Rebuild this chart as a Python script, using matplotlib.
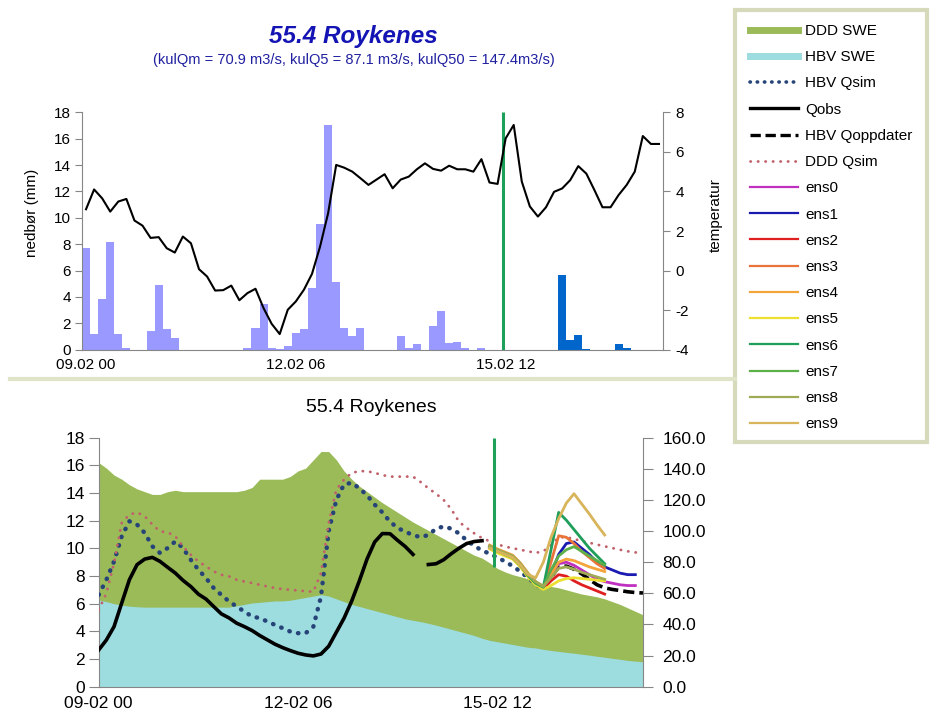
import numpy as np
import matplotlib
matplotlib.use('Agg')
import matplotlib.pyplot as plt
from matplotlib.lines import Line2D
from matplotlib.patches import Rectangle

plt.rcParams['font.family'] = ['Liberation Sans', 'DejaVu Sans']
plt.rcParams['axes.unicode_minus'] = False

nan = np.nan

# 3-hourly steps, 09.02 00 -> 17.02 21
TOP_XLABELS = ['09.02 00', '12.02 06', '15.02 12']
BOT_XLABELS = ['09-02 00', '12-02 06', '15-02 12']

# precipitation (mm), observed then forecast
PRECIP_OBS = [7.7, 1.2, 3.85, 8.2, 1.2, 0.1, 0, 0, 1.4, 4.9,
              1.55, 0.85, 0, 0, 0, 0, 0, 0, 0, 0,
              0.15, 1.65, 3.45, 0.1, 0.05, 0.3, 1.3, 1.55, 4.7, 9.55,
              17.0, 5.1, 1.65, 1.05, 1.65, 0, 0, 0, 0, 1.05,
              0.15, 0.4, 0, 1.8, 2.95, 0.5, 0.55, 0.15, 0, 0.1,
              0, 0]
PRECIP_FC = [0, 0, 0, 0, 0, 0, 0, 5.7, 0.75, 1.1,
             0.05, 0, 0, 0, 0.4, 0.1, 0, 0, 0, 0]

TEMP = [3.1, 4.1, 3.65, 2.98, 3.49, 3.62, 2.53, 2.27, 1.65, 1.69,
        1.13, 0.91, 1.72, 1.38, 0.07, -0.30, -1.01, -0.99, -0.76, -1.50,
        -1.14, -0.92, -1.90, -2.69, -3.21, -1.98, -1.56, -0.97, -0.17, 1.21,
        2.9, 5.34, 5.2, 5.0, 4.67, 4.33, 4.6, 4.87, 4.16, 4.6,
        4.75, 5.12, 5.42, 5.14, 5.05, 5.3, 5.12, 5.12, 5.0, 5.63,
        4.45, 4.38, 6.68, 7.36, 4.5, 3.24, 2.73, 3.2, 3.98, 4.15,
        4.57, 5.28, 4.9, 4.07, 3.2, 3.2, 3.82, 4.33, 5.0, 6.8,
        6.4, 6.4]

# snow water equivalent (left axis)
DDD_SWE = [16.2, 15.8, 15.3, 15.0, 14.6, 14.3, 14.1, 13.9, 13.9, 14.1,
           14.2, 14.1, 14.1, 14.1, 14.1, 14.1, 14.1, 14.1, 14.1, 14.2,
           14.4, 15.0, 15.0, 15.0, 15.0, 15.2, 15.6, 15.8, 16.4, 17.0,
           17.0, 16.4, 15.6, 15.0, 14.5, 14.1, 13.7, 13.3, 12.95, 12.6,
           12.25, 11.9, 11.6, 11.3, 11.0, 10.7, 10.4, 10.1, 9.8, 9.5,
           9.3, 8.95, 8.55, 8.3, 8.1, 7.95, 7.8, 7.6, 7.4, 7.25,
           7.15, 7.0, 6.85, 6.7, 6.6, 6.5, 6.35, 6.15, 5.95, 5.7,
           5.45, 5.2]
HBV_SWE = [6.27, 6.15, 6.0, 5.9, 5.82, 5.78, 5.75, 5.75, 5.75, 5.75,
           5.75, 5.75, 5.75, 5.75, 5.75, 5.75, 5.75, 5.75, 5.85, 5.95,
           6.05, 6.1, 6.15, 6.2, 6.2, 6.25, 6.35, 6.45, 6.55, 6.65,
           6.55, 6.35, 6.15, 5.95, 5.8, 5.65, 5.5, 5.35, 5.2, 5.05,
           4.9, 4.8, 4.7, 4.58, 4.45, 4.3, 4.15, 4.0, 3.85, 3.7,
           3.5, 3.35, 3.25, 3.15, 3.05, 2.95, 2.85, 2.8, 2.7, 2.62,
           2.55, 2.48, 2.42, 2.35, 2.28, 2.2, 2.13, 2.05, 1.98, 1.9,
           1.85, 1.8]

# discharge (m3/s, right axis)
HBV_QSIM = [59, 68.7, 80.5, 96.6, 106.3, 104.2, 98.8, 90.2, 85.9, 89.1,
            93.4, 89.1, 81.6, 75.2, 69.8, 63.4, 59, 54.8, 51.5, 48.3,
            45.1, 44.1, 41.9, 39.7, 37.6, 35.4, 34.4, 34.4, 38.6, 58,
            100, 120, 130, 131, 127.5, 123, 117, 112, 106, 102,
            99.5, 97.5, 96, 97.5, 101.5, 103, 101.5, 98.5, 94, 90.5,
            87.5, 85.5, 83, 80.5, 77.5, 74, 70, 66, 62.5, nan,
            nan, nan, nan, nan, nan, nan, nan, nan, nan, nan,
            nan, nan]
QOBS = [23.6, 30, 38.6, 53.7, 68.7, 78.4, 82, 83.1, 80.5, 76.7,
        73, 68.3, 64.4, 59.5, 56.3, 51.5, 46.8, 44.2, 40.8, 38.6,
        36.1, 32.9, 30.1, 27.3, 25.1, 23.2, 21.5, 20.4, 19.8, 21,
        26, 35, 44, 55, 68, 82, 93, 98.4, 98.3, 94,
        90, 85, nan, 78.5, 79, 81.6, 85.5, 89, 92, 93.3,
        93.8, nan, nan, nan, nan, nan, nan, nan, nan, nan,
        nan, nan, nan, nan, nan, nan, nan, nan, nan, nan,
        nan, nan]
DDD_QSIM = [49.4, 60, 79.5, 105.2, 110.6, 112, 109.5, 104.2, 99.8, 99.2,
            96.6, 90.2, 84.8, 80.5, 77.3, 74.1, 71.9, 70.9, 68.7, 67.6,
            66.6, 65.5, 64.4, 63.4, 62.7, 62.3, 61.8, 61.4, 61, 73,
            105, 126.7, 133, 137.4, 138.5, 138.5, 137.4, 136, 135, 135,
            135, 135, 131.5, 127.5, 124, 120, 114, 106, 102, 98.5,
            95.5, 93.5, 91.5, 90, 89, 88, 87, 86, 87, 91,
            96, 96, 95, 93.5, 92.5, 91.3, 90.2, 89.1, 88, 87,
            86.3, 85.9]

# updated HBV forecast, from step 58
QOPPD_START = 58
HBV_QOPPD = [63, 70, 77, 77.5, 75.5, 72.5, 69, 65.5, 63.5, 62.5,
             61.8, 61, 60.5, 60.2]

# ensemble members, from step 51
ENS_START = 51
ENS0 = [90, 87.5, 85.5, 83, 78, 71.5, 66.5, 64, 72, 79, 80, 78, 75, 72, 69, 67.5, 66.5, 65.5, 65, 65]
ENS1 = [89.5, 87, 85, 83.5, 78.5, 72, 67, 63.5, 72, 85, 92, 93, 89, 85, 80, 77, 75, 73, 72, 72]
ENS2 = [90.5, 88, 86, 84, 79, 72.5, 67, 63, 68, 72, 71, 68, 65.5, 63.5, 61.5, 59.5]
ENS3 = [89, 86.5, 84.5, 82.5, 77.5, 71, 66, 64, 80, 97, 96, 92, 87, 83, 79, 76]
ENS4 = [91, 88.5, 86.5, 84.5, 79.5, 73, 67.5, 64.5, 72, 80, 82, 81, 79, 77, 75.5, 74]
ENS5 = [88.5, 86, 84, 82, 77, 70.5, 65.5, 62.5, 65, 68, 69.5, 70, 69.5, 69, 68.5, 68]
ENS6 = [90, 87.5, 85, 83, 78, 71.5, 66.5, 64, 88, 112, 107, 101, 95, 89, 84, 79]
ENS7 = [89.5, 87, 85.5, 83.5, 78.5, 72, 67, 64, 75, 84, 88, 90, 87, 84, 81, 78]
ENS8 = [90.5, 88, 86, 84, 79, 72.5, 67.5, 64.5, 70, 76, 77, 75.5, 73.5, 72, 70.5, 69]
ENS9 = [89, 87, 85, 83, 78, 72, 70, 80, 96, 108, 118, 124, 117.5, 111, 104, 97.5]
ENS_COLORS = ['#c030c0', '#1a1ab0', '#e02020', '#e8743a', '#f3a43a',
              '#ece030', '#1f9e5a', '#5cb04a', '#a0aa55', '#d8b45a']

FC_TOP = 52.2
FC_BOT = 51.5

C_AXIS = '#868686'
C_DDD_SWE = '#9bbb59'
C_HBV_SWE = '#9ddcdf'
C_HBV_Q = '#264478'
C_DDD_Q = '#c0606a'
C_FC = '#1fa05a'
DOTS = (0, (0.1, 1.9))
SMALL_DOTS = (0, (0.1, 2.6))
DASHES = (0, (3.1, 1.4))

W, H = 930, 713


def box(l, t, r, b):
    return [l / W, 1 - b / H, (r - l) / W, (b - t) / H]


def style_axes(ax, axr, size, tlen, rpad):
    for a in (ax, axr):
        a.spines['top'].set_visible(False)
        for s in a.spines.values():
            s.set_color(C_AXIS)
    ax.spines['right'].set_visible(False)
    axr.spines['left'].set_visible(False)
    axr.spines['bottom'].set_visible(False)
    ax.tick_params(axis='y', direction='out', length=tlen, color=C_AXIS,
                   labelsize=size, pad=3)
    axr.tick_params(axis='y', direction='out', length=tlen, color=C_AXIS,
                    labelsize=size, pad=rpad)


fig = plt.figure(figsize=(W / 100, H / 100), dpi=100)
steps = np.arange(72)

fig.text(353 / W, 1 - 36 / H, '55.4 Roykenes', ha='center', va='center',
         fontsize=17.5, fontweight='bold', style='italic', color='#1414b4')
fig.text(354 / W, 1 - 60 / H,
         '(kulQm = 70.9 m3/s, kulQ5 = 87.1 m3/s, kulQ50 = 147.4m3/s)',
         ha='center', va='center', fontsize=10.5, color='#2020a0')

# precipitation and temperature
ax1 = fig.add_axes(box(82, 112.3, 663, 349.7))
ax1.bar(steps[:52], PRECIP_OBS, width=1, align='edge', color='#9999ff', linewidth=0)
ax1.bar(steps[52:], PRECIP_FC, width=1, align='edge', color='#0066cc', linewidth=0)
ax1.vlines(FC_TOP, 0, 18, color=C_FC, lw=2.2, zorder=3)
ax1.set_xlim(0, 72)
ax1.set_ylim(0, 18)
ax1.set_yticks(range(0, 19, 2))
ax1.set_xticks([0.5, 26.5, 52.5], TOP_XLABELS)
ax1.tick_params(axis='x', length=0, pad=6, labelsize=11)

ax1t = ax1.twinx()
ax1t.plot(steps + 0.5, TEMP, color='black', lw=1.5)
ax1t.set_ylim(-4, 8)
ax1t.set_yticks(range(-4, 9, 2))
style_axes(ax1, ax1t, 11, 5, 4)

fig.text(32 / W, 1 - 213 / H, 'nedbør (mm)', rotation=90, ha='center',
         va='center', fontsize=11)
fig.text(716 / W, 1 - 215 / H, 'temperatur', rotation=90, ha='center',
         va='center', fontsize=11)

# separator
fig.add_artist(Line2D([10 / W, 735 / W], [1 - 379 / H, 1 - 379 / H],
                      color='#dfe3c8', lw=3, transform=fig.transFigure))

# snow and discharge
ax2 = fig.add_axes(box(98.7, 437.7, 643, 686.7))
ax2.fill_between(steps, 0, DDD_SWE, color=C_DDD_SWE, linewidth=0)
ax2.fill_between(steps, 0, HBV_SWE, color=C_HBV_SWE, linewidth=0)
ax2.set_xlim(0, 71)
ax2.set_ylim(0, 18)
ax2.set_yticks(range(0, 19, 2))
ax2.set_xticks([0, 26, 52], BOT_XLABELS)
ax2.tick_params(axis='x', length=0, pad=7, labelsize=12.5)

ax2t = ax2.twinx()
ax2t.plot(steps, HBV_QSIM, color=C_HBV_Q, lw=3.2, linestyle=DOTS,
          dash_capstyle='round')
ax2t.plot(steps, QOBS, color='black', lw=2.6)
qx = np.arange(QOPPD_START, QOPPD_START + len(HBV_QOPPD))
ax2t.plot(qx, HBV_QOPPD, color='black', lw=2.6, linestyle=DASHES)
ax2t.plot(steps, DDD_QSIM, color=C_DDD_Q, lw=2.0, linestyle=SMALL_DOTS,
          dash_capstyle='round')
for ens, col in zip([ENS0, ENS1, ENS2, ENS3, ENS4, ENS5, ENS6, ENS7, ENS8, ENS9],
                    ENS_COLORS):
    ex = np.arange(ENS_START, ENS_START + len(ens))
    ax2t.plot(ex, ens, color=col, lw=2.0)
ax2t.vlines(FC_BOT, 77, 160, color=C_FC, lw=2.2)
ax2t.set_ylim(0, 160)
ax2t.set_yticks(range(0, 161, 20), [f'{v:.1f}' for v in range(0, 161, 20)])
style_axes(ax2, ax2t, 12.5, 7, 7)

fig.text(371 / W, 1 - 408 / H, '55.4 Roykenes', ha='center', va='center',
         fontsize=14)

# legend box
fig.add_artist(Rectangle((735 / W, 1 - 442 / H), 192 / W, 432 / H,
                         transform=fig.transFigure, facecolor='white',
                         edgecolor='#d6dabb', lw=3))
handles = [
    Line2D([], [], color=C_DDD_SWE, lw=5),
    Line2D([], [], color=C_HBV_SWE, lw=5),
    Line2D([], [], color=C_HBV_Q, lw=2.6, linestyle=DOTS, dash_capstyle='round'),
    Line2D([], [], color='black', lw=2.4),
    Line2D([], [], color='black', lw=2.4, linestyle=DASHES),
    Line2D([], [], color=C_DDD_Q, lw=2.0, linestyle=SMALL_DOTS,
           dash_capstyle='round'),
] + [Line2D([], [], color=c, lw=1.6) for c in ENS_COLORS]
labels = ['DDD SWE', 'HBV SWE', 'HBV Qsim', 'Qobs', 'HBV Qoppdater', 'DDD Qsim'] + \
         [f'ens{k}' for k in range(10)]
fig.legend(handles, labels, loc='upper left', bbox_to_anchor=(750 / W, 1 - 24 / H),
           frameon=False, fontsize=11, borderpad=0, borderaxespad=0,
           handlelength=3.15, handletextpad=0.45, labelspacing=0.8)

fig.savefig('out.png', dpi=100)
